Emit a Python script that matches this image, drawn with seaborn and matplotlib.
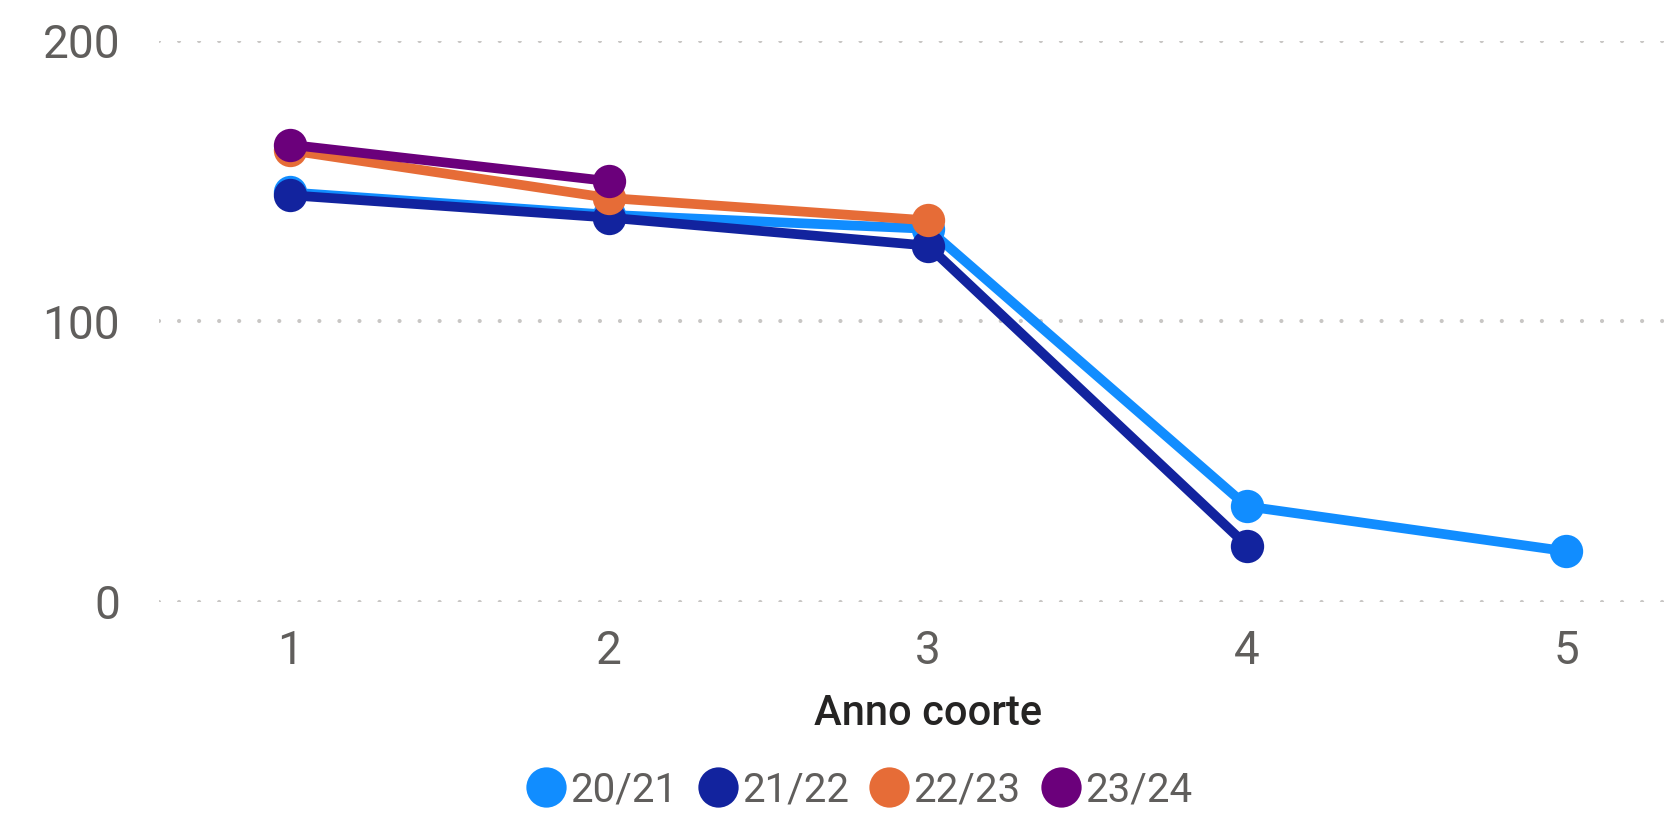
import numpy as np
import pandas as pd
import matplotlib
matplotlib.use("Agg")
import matplotlib.pyplot as plt
import matplotlib.transforms as mtransforms
from matplotlib.lines import Line2D
import seaborn as sns

# ---- data ----
categories = [1, 2, 3, 4, 5]
series_names = ["20/21", "21/22", "22/23", "23/24"]
s_2021 = [146, 138, 133, 34, 18]
s_2122 = [145, 137, 127, 20, None]
s_2223 = [161, 144, 136, None, None]
s_2324 = [163, 150, None, None, None]
y_ticks = [0, 100, 200]
x_title = "Anno coorte"

colors = ["#118DFF", "#12239E", "#E66C37", "#6B007B"]

rows = []
for name, vals in zip(series_names, [s_2021, s_2122, s_2223, s_2324]):
    for c, v in zip(categories, vals):
        if v is not None:
            rows.append({"x": c, "y": v, "serie": name})
df = pd.DataFrame(rows)

sns.set_theme(style="white")
plt.rcParams["font.family"] = ["Roboto", "DejaVu Sans"]

W, H = 1664, 813
fig = plt.figure(figsize=(W / 100, H / 100), dpi=100)
ax_left, ax_right = 159 / W, 1.0
ax_bottom, ax_top = (H - 601.7) / H, (H - 41) / H
ax = fig.add_axes([ax_left, ax_bottom, ax_right - ax_left, ax_top - ax_bottom])

sns.lineplot(data=df, x="x", y="y", hue="serie", hue_order=series_names,
             palette=colors, marker="o", markersize=24, markeredgewidth=0,
             linewidth=7, ax=ax, legend=False, sort=True)
for ln in ax.get_lines():
    ln.set_clip_on(False)
    ln.set_solid_capstyle("round")
    ln.set_solid_joinstyle("round")

ax.set_xlim(0.59, 5.307)
ax.set_ylim(0, 200)
ax.set_xticks(categories)
ax.set_xticklabels([str(c) for c in categories])
ax.set_yticks(y_ticks)
ax.set_yticklabels([str(t) for t in y_ticks])
ax.tick_params(axis="y", length=0, pad=28, labelsize=33, labelcolor="#605E5C")
ax.tick_params(axis="x", length=0, pad=20, labelsize=33, labelcolor="#605E5C")
ax.set_xlabel("")
ax.set_ylabel("")
for sp in ax.spines.values():
    sp.set_visible(False)

ax.yaxis.grid(True, color="#C8C6C4", linewidth=3.0, linestyle=(0, (0.01, 4.8)))
for gl in ax.get_ygridlines():
    gl.set_dash_capstyle("round")
ax.xaxis.grid(False)
ax.set_axisbelow(True)

# axis title, centered on the category span
trans = mtransforms.blended_transform_factory(ax.transData, fig.transFigure)
ax.text(3, 1 - 713 / H, x_title, transform=trans, ha="center", va="center",
        fontsize=30, fontweight="medium", color="#252423")

handles = [Line2D([0], [0], marker="o", linestyle="none", markersize=29,
                  markerfacecolor=c, markeredgewidth=0) for c in colors]
leg = fig.legend(handles, series_names, loc="center",
                 bbox_to_anchor=(860 / W, 1 - 790 / H), ncol=4, frameon=False,
                 fontsize=29, handlelength=0.9, handletextpad=0.15,
                 columnspacing=0.55, borderaxespad=0, borderpad=0)
for t in leg.get_texts():
    t.set_color("#605E5C")

fig.savefig("out.png", dpi=100)
